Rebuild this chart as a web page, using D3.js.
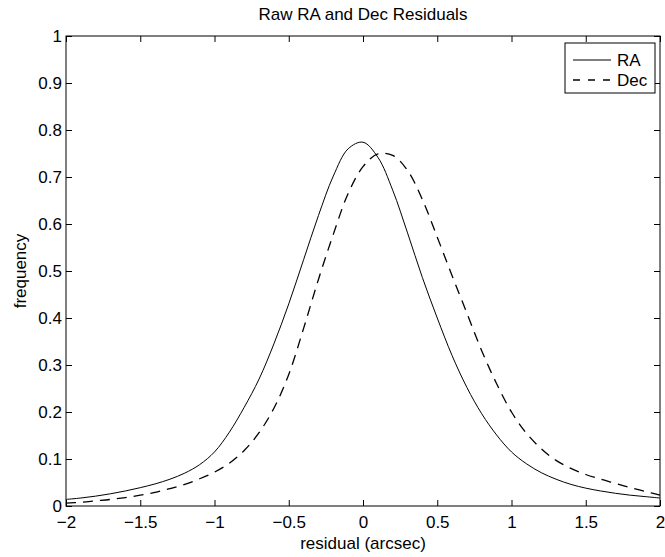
<!DOCTYPE html>
<html>
<head>
<meta charset="utf-8">
<script src="https://cdn.jsdelivr.net/npm/d3@7"></script>
<style>
  html, body { margin: 0; padding: 0; background: #fff; }
  svg { display: block; }
  text { font-family: "Liberation Sans", Arial, Helvetica, sans-serif; fill: #000; }
</style>
</head>
<body>
<svg id="chart" width="665" height="557"></svg>
<script>
// ---- data ----
const xValues = [-2.0,-1.9,-1.8,-1.7,-1.6,-1.5,-1.4,-1.3,-1.2,-1.1,-1.0,-0.9,-0.8,-0.7,-0.6,-0.5,-0.4,-0.3,-0.2,-0.1,0.0,0.1,0.2,0.3,0.4,0.5,0.6,0.7,0.8,0.9,1.0,1.1,1.2,1.3,1.4,1.5,1.6,1.7,1.8,1.9,2.0];
const raValues = [0.014,0.017,0.021,0.026,0.032,0.039,0.047,0.057,0.070,0.088,0.115,0.157,0.210,0.270,0.345,0.430,0.524,0.618,0.702,0.760,0.774,0.742,0.672,0.581,0.486,0.400,0.320,0.252,0.196,0.151,0.115,0.090,0.071,0.057,0.046,0.038,0.032,0.027,0.023,0.020,0.017];
const decValues = [0.006,0.008,0.011,0.014,0.018,0.023,0.029,0.037,0.046,0.058,0.072,0.091,0.118,0.156,0.208,0.280,0.378,0.482,0.578,0.665,0.722,0.749,0.746,0.714,0.652,0.572,0.490,0.410,0.330,0.260,0.200,0.155,0.122,0.097,0.080,0.067,0.057,0.048,0.039,0.031,0.023];
const seriesNames = ["RA", "Dec"];
const xTicks = [-2,-1.5,-1,-0.5,0,0.5,1,1.5,2];
const xTickLabels = ["\u22122","\u22121.5","\u22121","\u22120.5","0","0.5","1","1.5","2"];
const yTicks = [0,0.1,0.2,0.3,0.4,0.5,0.6,0.7,0.8,0.9,1];
const yTickLabels = ["0","0.1","0.2","0.3","0.4","0.5","0.6","0.7","0.8","0.9","1"];
const titleText = "Raw RA and Dec Residuals";
const xLabelText = "residual (arcsec)";
const yLabelText = "frequency";

// ---- layout ----
const L = 66, R = 660, T = 36, B = 506;
const FS = 17;
const svg = d3.select("#chart");
const x = d3.scaleLinear().domain([-2, 2]).range([L, R]);
const y = d3.scaleLinear().domain([0, 1]).range([B, T]);

// curves
const line = d3.line().x((d, i) => x(xValues[i])).y(d => y(d)).curve(d3.curveCatmullRom.alpha(0.5));
svg.append("path").datum(raValues).attr("d", line)
  .attr("fill", "none").attr("stroke", "#000").attr("stroke-width", 1);
svg.append("path").datum(decValues).attr("d", line)
  .attr("fill", "none").attr("stroke", "#000").attr("stroke-width", 1.3)
  .attr("stroke-dasharray", "10,7");

// axes (ticks inside on all four sides)
function styleAxis(g) {
  g.select(".domain").remove();
  g.selectAll(".tick line").attr("stroke", "#000").attr("stroke-width", 1);
  g.selectAll("text").attr("font-size", FS).attr("font-family", null);
}
const xAxis = d3.axisBottom(x).tickValues(xTicks).tickSize(-6).tickPadding(0)
  .tickFormat((d, i) => xTickLabels[i]);
const gx = svg.append("g").attr("transform", `translate(0,${B})`).call(xAxis).call(styleAxis);
gx.selectAll("text").attr("dy", null).attr("y", 22);

svg.append("g").attr("transform", `translate(0,${T})`)
  .call(d3.axisTop(x).tickValues(xTicks).tickSize(-6).tickFormat(""))
  .call(styleAxis);

const yAxis = d3.axisLeft(y).tickValues(yTicks).tickSize(-6).tickPadding(0)
  .tickFormat((d, i) => yTickLabels[i]);
const gy = svg.append("g").attr("transform", `translate(${L},0)`).call(yAxis).call(styleAxis);
gy.selectAll("text").attr("x", -4).attr("dy", "0.35em");

svg.append("g").attr("transform", `translate(${R},0)`)
  .call(d3.axisRight(y).tickValues(yTicks).tickSize(-6).tickFormat(""))
  .call(styleAxis);

// frame
svg.append("rect").attr("x", L).attr("y", T).attr("width", R - L).attr("height", B - T)
  .attr("fill", "none").attr("stroke", "#000").attr("stroke-width", 1);

// title & labels
svg.append("text").attr("x", (L + R) / 2).attr("y", 20).attr("text-anchor", "middle")
  .attr("font-size", FS).text(titleText);
svg.append("text").attr("x", (L + R) / 2).attr("y", 549).attr("text-anchor", "middle")
  .attr("font-size", FS).text(xLabelText);
svg.append("text").attr("transform", `translate(26,${(T + B) / 2}) rotate(-90)`)
  .attr("text-anchor", "middle").attr("font-size", FS).text(yLabelText);

// legend
const lg = svg.append("g");
lg.append("rect").attr("x", 565).attr("y", 43).attr("width", 90).attr("height", 50)
  .attr("fill", "#fff").attr("stroke", "#000").attr("stroke-width", 1);
const legendRows = [60, 80];
seriesNames.forEach((name, i) => {
  lg.append("line").attr("x1", 573).attr("x2", 611)
    .attr("y1", legendRows[i]).attr("y2", legendRows[i])
    .attr("stroke", "#000").attr("stroke-width", i === 0 ? 1 : 1.3)
    .attr("stroke-dasharray", i === 0 ? null : "7,8");
  lg.append("text").attr("x", 617).attr("y", legendRows[i]).attr("dy", "0.35em")
    .attr("font-size", FS).text(name);
});
</script>
</body>
</html>
